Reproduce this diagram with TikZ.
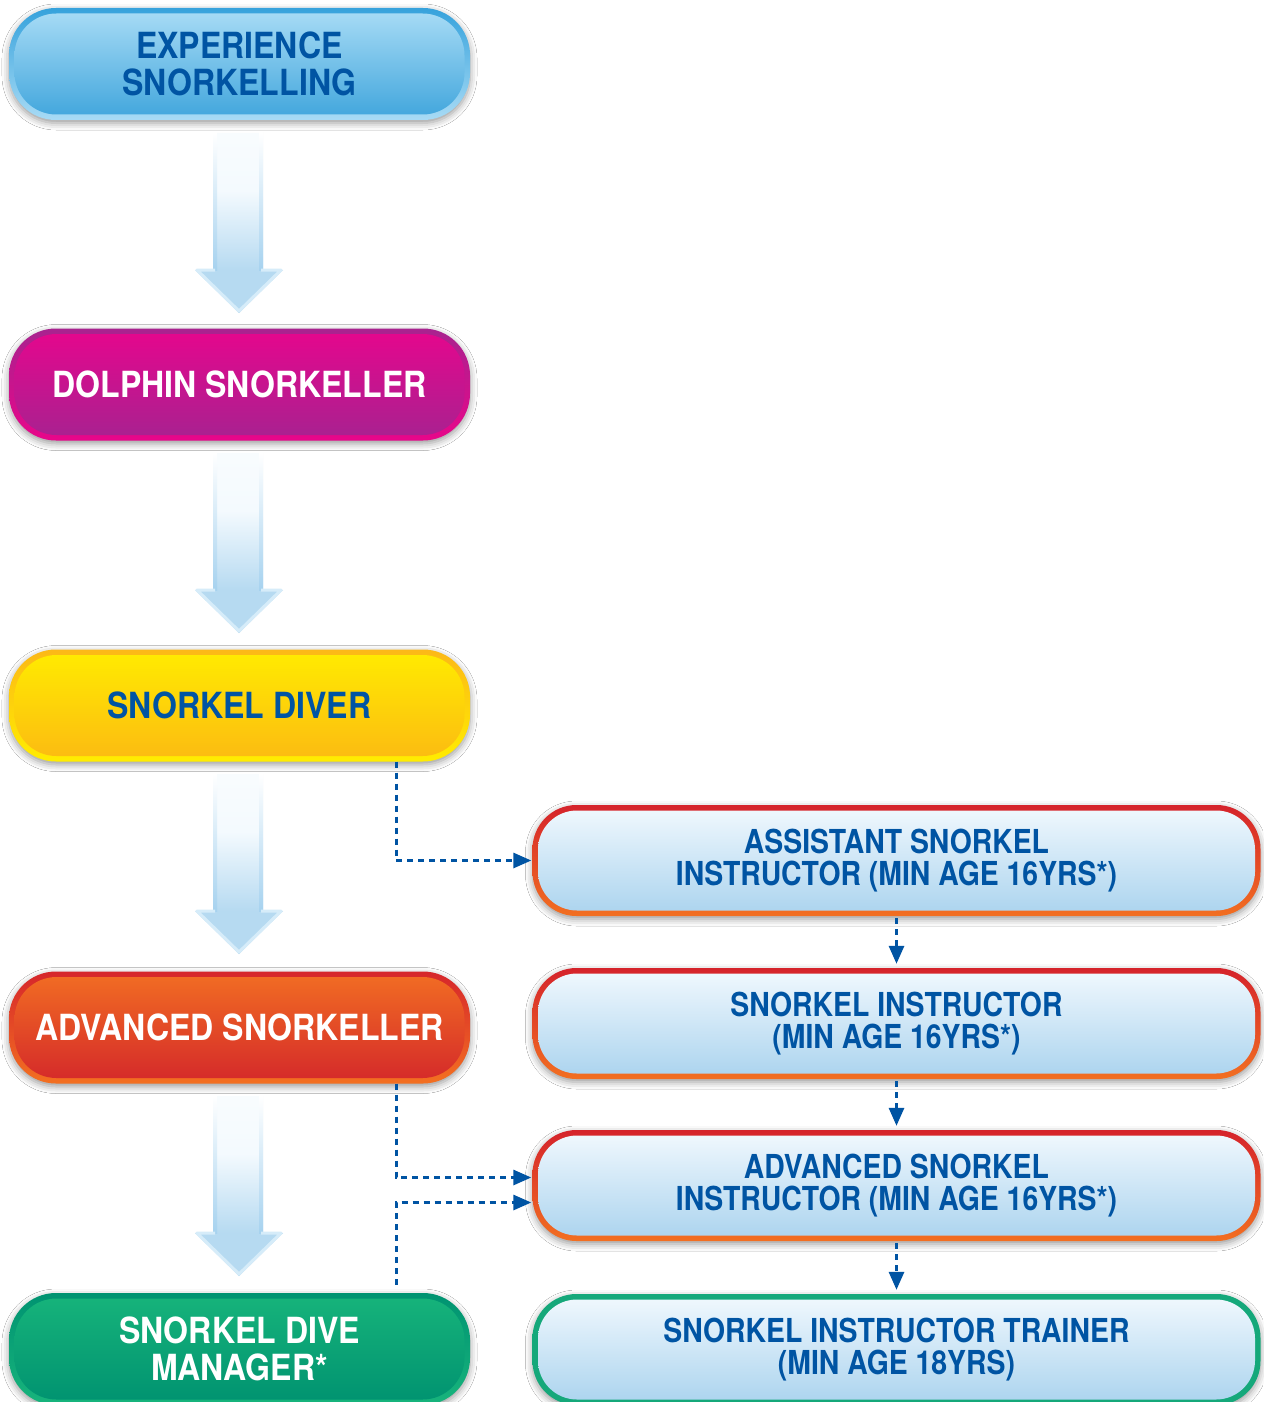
\documentclass[tikz,border=0pt]{standalone}
\usepackage{fontspec}
\setmainfont{TeX Gyre Heros}
\newfontfamily\lfont[FakeStretch=0.89]{TeX Gyre Heros}
\newfontfamily\rfont[FakeStretch=0.86]{TeX Gyre Heros}
\usetikzlibrary{arrows.meta,shadows.blur,calc}
\definecolor{tblue}{HTML}{0054A3}
\definecolor{expF1}{HTML}{AADDF6}
\definecolor{expF2}{HTML}{3FA5DC}
\definecolor{expB1}{HTML}{36A2DC}
\definecolor{expB2}{HTML}{A8DBF5}
\definecolor{dolF1}{HTML}{E6068D}
\definecolor{dolF2}{HTML}{A72290}
\definecolor{dolB1}{HTML}{A8238F}
\definecolor{dolB2}{HTML}{E8068A}
\definecolor{divF1}{HTML}{FFEC00}
\definecolor{divF2}{HTML}{FCBA12}
\definecolor{divB1}{HTML}{FCB817}
\definecolor{divB2}{HTML}{FFED00}
\definecolor{advF1}{HTML}{F26E23}
\definecolor{advF2}{HTML}{D4282A}
\definecolor{advB1}{HTML}{D6262B}
\definecolor{advB2}{HTML}{F37021}
\definecolor{mgrF1}{HTML}{17B47B}
\definecolor{mgrF2}{HTML}{009270}
\definecolor{mgrB1}{HTML}{009371}
\definecolor{mgrB2}{HTML}{18B47C}
\definecolor{rF1}{HTML}{F2F9FE}
\definecolor{rF2}{HTML}{AAD3EE}
\definecolor{rB1}{HTML}{D5232B}
\definecolor{rB2}{HTML}{F26F21}
\definecolor{gB}{HTML}{15A87A}
\definecolor{arrowblue}{HTML}{B6DAF1}
\definecolor{arrowwhite}{HTML}{F4FAFE}
\definecolor{edgeblue}{HTML}{A6D2EF}
\definecolor{headedge}{HTML}{D6ECF9}
\pgfdeclareverticalshading{arrowshade}{100bp}{color(0bp)=(arrowblue); color(37bp)=(arrowblue); color(59bp)=(arrowwhite); color(100bp)=(white)}
\tikzset{
  sh/.style={blur shadow={shadow xshift=0pt, shadow yshift=-3pt, shadow blur radius=7pt, shadow opacity=40}},
  infill/.style n args={3}{path picture={\path[top color=#1,bottom color=#2,rounded corners=#3] ([shift={(5.5pt,-5.5pt)}]path picture bounding box.north west) rectangle ([shift={(-5.5pt,5.5pt)}]path picture bounding box.south east);}},
  lbox/.style={rectangle, rounded corners=47pt, minimum width=461pt, minimum height=112pt, inner sep=0pt, align=center, font=\lfont\bfseries\fontsize{36}{37}\selectfont, sh},
  rbox/.style={rectangle, rounded corners=44pt, minimum width=728pt, minimum height=111pt, inner sep=0pt, align=center, font=\rfont\bfseries\fontsize{33}{32}\selectfont, text=tblue, sh, top color=rB1, bottom color=rB2, infill={rF1}{rF2}{39pt}},
  conn/.style={draw=tblue, line width=3pt, dash pattern=on 6pt off 5pt, -{Triangle[length=18pt,width=15pt]}},
}
\begin{document}
\begin{tikzpicture}[x=1pt,y=-1pt]
\fill[white] (0,0) rectangle (1263,1402);
\useasboundingbox (0,0) rectangle (1263,1402);
% big arrows
\foreach \t in {133,453,774,1096}{
  \shade[shading=arrowshade] (213,\t) -- (263,\t) -- (263,\t+137) -- (283,\t+137) -- (239,\t+180) -- (195,\t+137) -- (213,\t+137) -- cycle;
  \fill[top color=white, bottom color=edgeblue] (213,\t) rectangle (217,\t+137);
  \fill[top color=white, bottom color=edgeblue] (259,\t) rectangle (263,\t+137);
  \draw[headedge, line width=3pt, line join=round] (215,\t+137) -- (197,\t+137) -- (239,\t+178) -- (281,\t+137) -- (261,\t+137);
}
% left column
\node[lbox, top color=expB1, bottom color=expB2, infill={expF1}{expF2}{42pt}, text=tblue] (exp) at (239.5,64) {EXPERIENCE\\SNORKELLING};
\node[lbox, top color=dolB1, bottom color=dolB2, infill={dolF1}{dolF2}{42pt}, text=white] (dol) at (239.5,384.5) {DOLPHIN SNORKELLER};
\node[lbox, top color=divB1, bottom color=divB2, infill={divF1}{divF2}{42pt}, text=tblue] (div) at (239.5,705.5) {SNORKEL DIVER};
\node[lbox, top color=advB1, bottom color=advB2, infill={advF1}{advF2}{42pt}, text=white] (adv) at (239.5,1027.5) {ADVANCED SNORKELLER};
\node[lbox, top color=mgrB1, bottom color=mgrB2, infill={mgrF1}{mgrF2}{42pt}, text=white] (mgr) at (239.5,1349) {SNORKEL DIVE\\MANAGER*};
% right column
\node[rbox] (asi) at (896.5,860.5) {ASSISTANT SNORKEL\\INSTRUCTOR (MIN AGE 16YRS*)};
\node[rbox] (si) at (896.5,1023.5) {SNORKEL INSTRUCTOR\\(MIN AGE 16YRS*)};
\node[rbox] (asn) at (896.5,1185.5) {ADVANCED SNORKEL\\INSTRUCTOR (MIN AGE 16YRS*)};
\node[rbox, top color=gB, bottom color=gB] (sit) at (896.5,1349.5) {SNORKEL INSTRUCTOR TRAINER\\(MIN AGE 18YRS)};
% connectors
\coordinate (k1) at (396,0);
\coordinate (k2) at ($(asn.west)+(0,-8)$);
\coordinate (k3) at ($(asn.west)+(0,17)$);
\draw[conn, shorten >=1pt] (div.south -| k1) -- (k1 |- asi.west) -- (asi.west);
\draw[conn, shorten >=1pt] (adv.south -| k1) -- (k1 |- k2) -- (k2);
\draw[conn, shorten >=1pt, shorten <=8pt] (mgr.north -| k1) -- (k1 |- k3) -- (k3);
\draw[conn, shorten >=4pt, shorten <=2pt] (asi.south) -- (si.north);
\draw[conn, shorten >=4pt, shorten <=2pt] (si.south) -- (asn.north);
\draw[conn, shorten >=4pt, shorten <=2pt] (asn.south) -- (sit.north);
\end{tikzpicture}
\end{document}
